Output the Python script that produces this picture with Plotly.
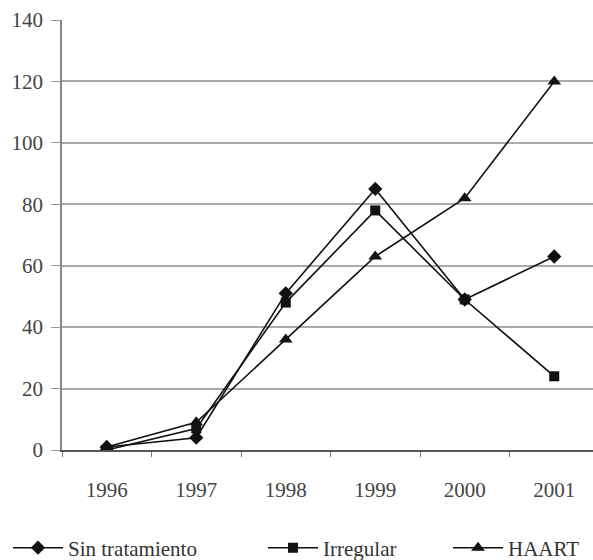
import plotly.graph_objects as go

years = ["1996", "1997", "1998", "1999", "2000", "2001"]
sin_tratamiento = [1, 4, 51, 85, 49, 63]
irregular = [0, 7, 48, 78, 49, 24]
haart = [1, 9, 36, 63, 82, 120]
y_ticks = [0, 20, 40, 60, 80, 100, 120, 140]

series = [
    ("Sin tratamiento", sin_tratamiento, "diamond", 11, "legend"),
    ("Irregular", irregular, "square", 10, "legend2"),
    ("HAART", haart, "triangle-up", 12, "legend3"),
]

fig = go.Figure()
for name, vals, sym, sz, lg in series:
    fig.add_trace(go.Scatter(
        x=years, y=vals, name=name, mode="lines+markers",
        line=dict(color="#111111", width=1.6),
        marker=dict(symbol=sym, size=sz, color="#111111"),
        legend=lg,
    ))

font = dict(family="Liberation Serif", size=21, color="#444444")
lfont = dict(family="Liberation Serif", size=21, color="#333333")

# plot area spans 62..593 px horizontally
def px_to_x(px):
    return (px - 62) / 531.0

leg_common = dict(orientation="h", y=-0.228, yanchor="middle", xanchor="left",
                  font=lfont, itemwidth=50, bgcolor="rgba(0,0,0,0)")

fig.update_layout(
    width=593, height=560,
    margin=dict(l=62, r=0, t=20, b=110, autoexpand=False),
    plot_bgcolor="white", paper_bgcolor="white",
    font=font,
    showlegend=True,
    legend=dict(x=px_to_x(8), **leg_common),
    legend2=dict(x=px_to_x(263), **leg_common),
    legend3=dict(x=px_to_x(448), **leg_common),
    xaxis=dict(
        type="category", range=[-0.5, 5.433],
        showline=True, linecolor="#555555", linewidth=1.5,
        ticks="outside", tickson="boundaries", ticklen=5, tickcolor="#777777",
        showgrid=False, ticklabelstandoff=20, automargin=False,
        tickfont=font,
    ),
    yaxis=dict(
        range=[0, 140], tickvals=y_ticks,
        showline=True, linecolor="#888888", linewidth=1.5,
        ticks="outside", ticklen=9, tickcolor="#999999",
        showgrid=True, gridcolor="#aaaaaa", gridwidth=1.5,
        zeroline=False, ticklabelstandoff=4, automargin=False,
        tickfont=font,
    ),
)

fig.write_html("out.html", config={"displayModeBar": False},
               post_script="document.body.style.margin='0';")
